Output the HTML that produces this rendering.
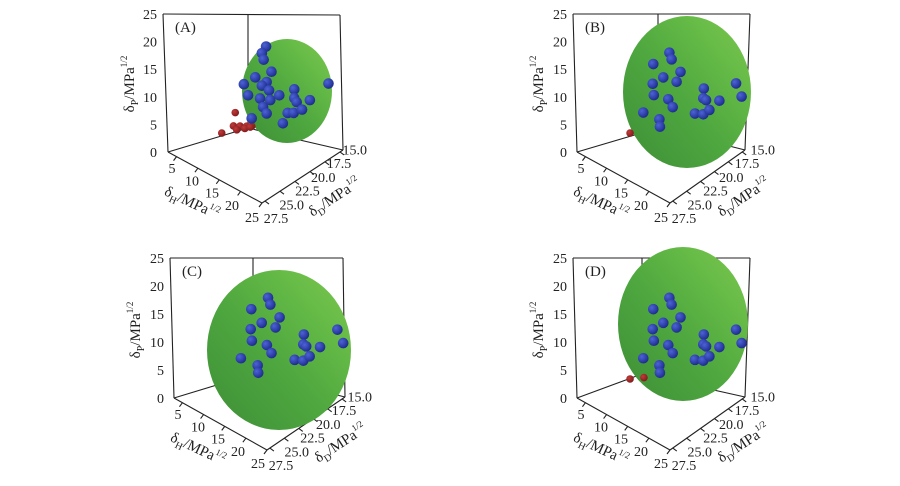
<!DOCTYPE html>
<html><head><meta charset="utf-8"><style>
html,body{margin:0;padding:0;background:#fff}
svg{display:block}
text{font-family:"Liberation Serif",serif;fill:#222}
</style></head><body>
<svg id="fig" width="900" height="486" viewBox="0 0 900 486" xmlns="http://www.w3.org/2000/svg">
<defs>
<linearGradient id="sph" x1="0" y1="1" x2="1" y2="0">
<stop offset="0" stop-color="#3d8e36"/><stop offset="0.45" stop-color="#4ea73f"/><stop offset="0.7" stop-color="#62b845"/><stop offset="1" stop-color="#7cc850"/>
</linearGradient>
<radialGradient id="blu" cx="0.35" cy="0.35" r="0.7"><stop offset="0" stop-color="#4d63d6"/><stop offset="1" stop-color="#1b2a8c"/></radialGradient>
<radialGradient id="red" cx="0.35" cy="0.35" r="0.7"><stop offset="0" stop-color="#c23a3a"/><stop offset="1" stop-color="#7e1a1a"/></radialGradient>
</defs>
</svg>
<script>
// Data (dD, dP, dH in MPa^1/2)
const blueA_D=[20.2,20.9,20.6,19.3,22.0,23.9,20.1,20.9,23.2,19.7,21.2,19.5,20.7,20.1,18.0,15.5,15.5,15.1,16.6,15.6,14.2,12.9,9.8,17.4,22.6];
const blueA_P=[18.6,17.9,16.5,13.4,14.3,14.4,12.1,12.0,11.9,10.3,9.9,8.4,8.0,6.4,8.2,7.5,5.9,4.9,4.0,3.3,2.9,3.7,4.5,2.7,7.3];
const blueA_H=[15,15,15,15,15,15,15,15,15,15,15,15,15,15,15,15,15,15,15,15,15,15,15,15,15];
const redA_D=[23.2,23.5,22.4,21.3,20.45,22.95,21.6,25.45,20.7];
const redA_P=[7.5,5.3,4.5,3.7,3.1,4.2,3.5,5.4,3.1];
const redA_H=[12,12,12,12,12,12,12,12,12];
const blueB_D=[20.5,20.1,23.4,18.5,21.6,19.2,23.5,23.3,20.7,19.9,25.2,22.3,22.2,14.3,14.4,13.9,11.5,15.9,14.4,13.3,8.5,7.5];
const blueB_P=[17.7,16.2,17.7,12.8,14.0,11.5,14.2,12.0,9.4,7.4,10.2,6.9,5.5,6.8,5.1,4.4,2.6,3.4,2.2,2.2,3.6,0.5];
const blueB_H=[15,15,15,15,15,15,15,15,15,15,15,15,15,15,15,15,15,15,15,15,15,15];
const redB_D=[25.3]; const redB_P=[5.3]; const redB_H=[12];
const redD_D=[25.3,22.8]; const redD_P=[5.3,3.8]; const redD_H=[12,12];
const pTicks=[0,5,10,15,20,25];
const hTicks=[5,10,15,20,25];
const dTicks=["27.5","25.0","22.5","20.0","17.5","15.0"];
const panelLabels=["(A)","(B)","(C)","(D)"];

const NS="http://www.w3.org/2000/svg";
const svg=document.getElementById('fig');
function mk(tag,attrs,parent){const e=document.createElementNS(NS,tag);for(const k in attrs)e.setAttribute(k,attrs[k]);(parent||svg).appendChild(e);return e;}

const panels=[
 {O:[168,152],F:[262,203],R:[343,150],TL:[163,14],TR:[340,15],B:[248,128],BT:[248,14],S:[287,91,45,52],blue:[blueA_D,blueA_P,blueA_H],red:[redA_D,redA_P,redA_H]},
 {O:[577,152],F:[670,203],R:[745,150],TL:[573,14],TR:[750,14],B:[658,128],BT:[658,14],S:[687,92,64,76],blue:[blueB_D,blueB_P,blueB_H],red:[redB_D,redB_P,redB_H]},
 {O:[174,398],F:[267,450],R:[345,397],TL:[170,258],TR:[343,258],B:[253,374],BT:[253,258],S:[279,350,72,80],blue:[blueB_D,blueB_P,blueB_H],red:[[],[],[]]},
 {O:[577,398],F:[670,450],R:[745,397],TL:[573,258],TR:[750,258],B:[642,374],BT:[642,258],S:[683,324,65,77],blue:[blueB_D,blueB_P,blueB_H],red:[redD_D,redD_P,redD_H]}
];

function proj(p,H,D,P){
  const hx=(p.F[0]-p.O[0])/22, hy=(p.F[1]-p.O[1])/22;
  const dx=(p.R[0]-p.F[0])/13.5, dy=(p.R[1]-p.F[1])/13.5;
  const py=(p.TL[1]-p.O[1])/25;
  return [p.O[0]+(H-3)*hx+(28-D)*dx, p.O[1]+(H-3)*hy+(28-D)*dy+P*py];
}
function line(g,a,b,name){
  const l=mk('line',{x1:a[0],y1:a[1],x2:b[0],y2:b[1],stroke:'#222','stroke-width':1.1},g);
  
  
}
function titleText(g,x,y,rot,sub,name){
  const t=mk('text',{x:0,y:0,'font-size':15,'text-anchor':'middle',transform:`translate(${x},${y}) rotate(${rot})`},g);
  
  
  t.appendChild(document.createTextNode('δ'));
  const s=mk('tspan',{'font-size':10,dy:4},t); s.textContent=sub;
  const m=mk('tspan',{dy:-4},t); m.textContent='/MPa';
  const u=mk('tspan',{'font-size':9,dy:-7},t); u.textContent='1/2';
}

panels.forEach((p,i)=>{
  const g=mk('g',{});
  
  
  // box
  line(g,p.TL,p.O,'p-axis-line');
  line(g,p.O,p.F,'h-axis-line');
  line(g,p.F,p.R,'d-axis-line');
  line(g,p.R,p.TR,'right-edge');
  line(g,p.TL,p.TR,'top-edge');
  line(g,p.BT,p.B,'back-edge');
  line(g,p.O,p.B,'floor-back-left');
  line(g,p.B,p.R,'floor-back-right');
  // ticks on H axis
  hTicks.forEach((h,k)=>{
    const a=proj(p,h,28,0);
    line(g,a,[a[0]-3,a[1]+4],'h-tick');
    const t=mk('text',{x:p.O[0]+4+(h-5)*4.0,y:p.O[1]+21+(h-5)*2.45,'font-size':14,'text-anchor':'middle'},g);
    
    
    t.textContent=h;
  });
  dTicks.forEach((d,k)=>{
    const a=proj(p,25,parseFloat(d),0);
    line(g,a,[a[0]+4,a[1]+3],'d-tick');
    const v=27.5-parseFloat(d);
    const t=mk('text',{x:p.F[0]+14+v*6.3,y:p.F[1]+20-v*5.5,'font-size':14,'text-anchor':'middle'},g);
    
    
    t.textContent=d;
  });
  pTicks.forEach(v=>{
    const y=p.O[1]+(p.TL[1]-p.O[1])*v/25;
    const t=mk('text',{x:p.TL[0]-6,y:y+5,'font-size':14,'text-anchor':'end'},g);
    
    
    t.textContent=v;
  });
  // sphere
  const s=mk('ellipse',{cx:p.S[0],cy:p.S[1],rx:p.S[2],ry:p.S[3],fill:'url(#sph)'},g);
  
  
  // red points
  p.red[0].forEach((d,k)=>{
    const c=proj(p,p.red[2][k],d,p.red[1][k]);
    const e=mk('circle',{cx:c[0],cy:c[1],r:3.8,fill:'url(#red)'},g);
    
    
  });
  p.blue[0].forEach((d,k)=>{
    const c=proj(p,p.blue[2][k],d,p.blue[1][k]);
    const e=mk('circle',{cx:c[0],cy:c[1],r:5.3,fill:'url(#blu)'},g);
    
    
  });
  // labels
  const L=mk('text',{x:p.TL[0]+12,y:p.TL[1]+18,'font-size':15},g);
  
  
  L.textContent=panelLabels[i];
  const dx=p.O[0]-168, dy=p.O[1]-152;
  titleText(g,134+dx,84+dy,-90,'P','p-axis-title');
  titleText(g,190+dx,207+dy,25,'H','h-axis-title');
  titleText(g,337+dx,201+dy,-33,'D','d-axis-title');
});
</script>
</body></html>
